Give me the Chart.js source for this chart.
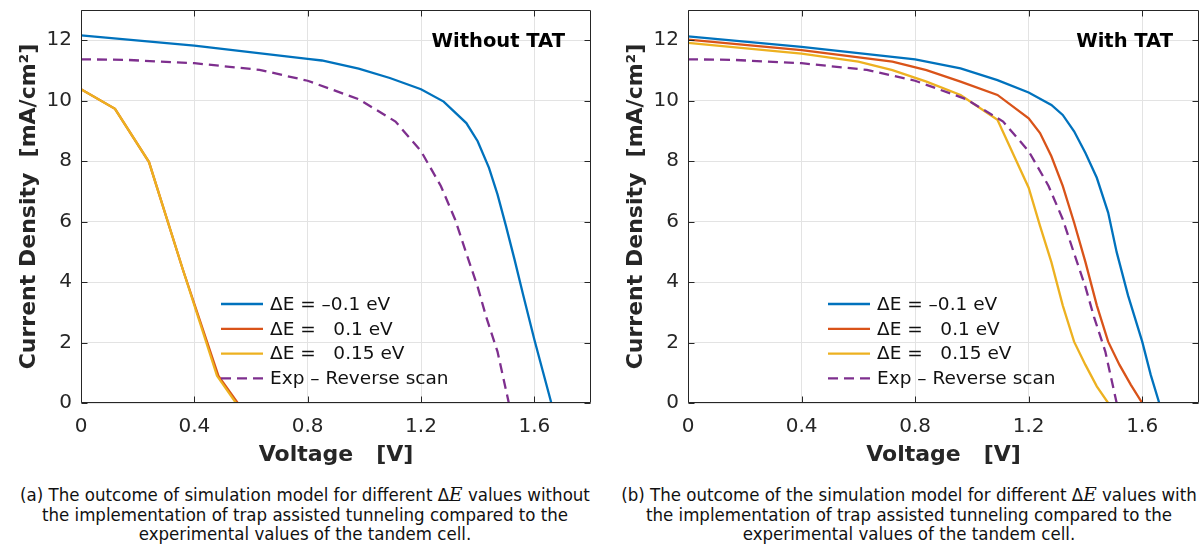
<!DOCTYPE html>
<html>
<head>
<meta charset="utf-8">
<script src="https://cdn.jsdelivr.net/npm/chart.js@4.4.1/dist/chart.umd.min.js"></script>
<style>
  body { margin: 0; background: #fff; width: 1203px; height: 546px; position: relative; overflow: hidden; }
  canvas { position: absolute; top: 0; }
  #jvLeft { left: 0; }
  #jvRight { left: 600px; }
  .caption {
    position: absolute; top: 485px;
    font-family: 'DejaVu Sans Condensed', 'DejaVu Sans', sans-serif;
    font-size: 18.5px; line-height: 19.5px; color: #111; text-align: center;
  }
  .caption i { font-family: 'DejaVu Serif', serif; }
</style>
</head>
<body>
<canvas id="jvLeft" width="600" height="470"></canvas>
<canvas id="jvRight" width="603" height="470"></canvas>
<div class="caption" style="left:0;width:610px">(a) The outcome of simulation model for different Δ<i>E</i> values without<br>the implementation of trap assisted tunneling compared to the<br>experimental values of the tandem cell.</div>
<div class="caption" style="left:610px;width:598px">(b) The outcome of the simulation model for different Δ<i>E</i> values with<br>the implementation of trap assisted tunneling compared to the<br>experimental values of the tandem cell.</div>
<script>
// J-V curves of the tandem cell: voltage in V, current density in mA/cm2
const voltageTicks = [0, 0.4, 0.8, 1.2, 1.6];
const currentTicks = [0, 2, 4, 6, 8, 10, 12];
const legendLabels = ['ΔE = –0.1 eV', 'ΔE =   0.1 eV', 'ΔE =   0.15 eV', 'Exp – Reverse scan'];

// measured reverse scan, shown in both panels
const expV = [0, 0.16, 0.40, 0.63, 0.80, 0.98, 1.11, 1.20, 1.27, 1.32, 1.36, 1.40, 1.43, 1.47, 1.51];
const expJ = [11.37, 11.35, 11.24, 11.02, 10.66, 10.05, 9.31, 8.33, 7.18, 6.08, 4.95, 3.84, 2.85, 1.70, 0];

// simulation without trap assisted tunneling
const noTatV_m01 = [0, 0.40, 0.80, 0.85, 0.98, 1.09, 1.20, 1.28, 1.36, 1.40, 1.44, 1.47, 1.50, 1.53, 1.56, 1.60, 1.63, 1.66];
const noTatJ_m01 = [12.16, 11.82, 11.38, 11.33, 11.06, 10.75, 10.38, 9.97, 9.26, 8.66, 7.78, 6.90, 5.85, 4.75, 3.60, 2.10, 1.05, 0];
const noTatV_01 = [0, 0.12, 0.24, 0.36, 0.485, 0.553];
const noTatJ_01 = [10.38, 9.73, 7.97, 4.40, 0.90, 0];
const noTatV_015 = [0, 0.12, 0.24, 0.36, 0.48, 0.547];
const noTatJ_015 = [10.38, 9.73, 7.97, 4.40, 0.90, 0];

// simulation with trap assisted tunneling
const tatV_m01 = [0, 0.40, 0.80, 0.96, 1.09, 1.20, 1.28, 1.32, 1.36, 1.40, 1.44, 1.48, 1.51, 1.55, 1.60, 1.63, 1.66];
const tatJ_m01 = [12.13, 11.78, 11.37, 11.07, 10.68, 10.27, 9.86, 9.53, 8.99, 8.27, 7.45, 6.30, 4.99, 3.56, 2.03, 0.93, 0];
const tatV_01 = [0, 0.40, 0.72, 0.84, 0.96, 1.09, 1.20, 1.24, 1.28, 1.32, 1.36, 1.40, 1.44, 1.48, 1.52, 1.56, 1.60];
const tatJ_01 = [12.02, 11.67, 11.29, 11.01, 10.63, 10.19, 9.42, 8.93, 8.16, 7.18, 5.97, 4.66, 3.23, 2.03, 1.26, 0.60, 0];
const tatV_015 = [0, 0.40, 0.60, 0.72, 0.84, 0.96, 1.09, 1.20, 1.24, 1.28, 1.32, 1.36, 1.40, 1.44, 1.48];
const tatJ_015 = [11.91, 11.56, 11.29, 11.01, 10.63, 10.19, 9.37, 7.12, 5.86, 4.66, 3.23, 2.03, 1.26, 0.55, 0];

const colors = ['#0072BD', '#D95319', '#EDB120', '#7E2F8E'];
const axisColor = '#262626';

function jvDataset(i, v, j) {
  return {
    label: legendLabels[i],
    data: v.map((x, k) => ({ x: x, y: j[k] })),
    borderColor: colors[i],
    borderWidth: 2.3,
    borderDash: i === 3 ? [10, 6] : [],
    pointRadius: 0,
    tension: 0,
    fill: false,
    order: 4 - i   // later curves on top
  };
}

// box around the axes with inward ticks, legend and panel tag
const matlabAxes = {
  id: 'matlabAxes',
  afterDatasetsDraw(chart, args, opts) {
    const { ctx, chartArea: a, scales: { x, y } } = chart;
    const L = Math.round(a.left) + 0.5, R = Math.round(a.right) - 0.5;
    const T = Math.round(a.top) + 0.5, B = Math.round(a.bottom) - 0.5;
    ctx.save();
    ctx.strokeStyle = axisColor;
    ctx.lineWidth = 1;
    ctx.setLineDash([]);
    ctx.beginPath();
    ctx.rect(L, T, R - L, B - T);
    voltageTicks.forEach(v => {
      const px = Math.round(x.getPixelForValue(v)) + 0.5;
      ctx.moveTo(px, B); ctx.lineTo(px, B - 6);
      ctx.moveTo(px, T); ctx.lineTo(px, T + 6);
    });
    currentTicks.forEach(c => {
      const py = Math.round(y.getPixelForValue(c)) + 0.5;
      ctx.moveTo(L, py); ctx.lineTo(L + 6, py);
      ctx.moveTo(R, py); ctx.lineTo(R - 6, py);
    });
    ctx.stroke();

    // legend
    ctx.font = '18.5px "DejaVu Sans"';
    ctx.textBaseline = 'middle';
    ctx.textAlign = 'left';
    chart.data.datasets.forEach((ds, i) => {
      const ly = a.top + 294 + i * 24.8;
      const lx = a.left + 140;
      ctx.strokeStyle = ds.borderColor;
      ctx.lineWidth = 2.3;
      ctx.setLineDash(ds.borderDash);
      ctx.beginPath();
      ctx.moveTo(lx, ly); ctx.lineTo(lx + 42, ly);
      ctx.stroke();
      ctx.fillStyle = '#111';
      ctx.fillText(ds.label, lx + 49, ly + 1);
    });

    // panel tag
    ctx.font = 'bold 19.5px "DejaVu Sans"';
    ctx.textAlign = 'right';
    ctx.fillStyle = '#000';
    ctx.fillText(opts.tag, a.right - 26, 42);
    ctx.restore();
  }
};

function makeChart(id, datasets, tag, yWidth, padRight, yTitlePad) {
  const tickFont = { family: 'DejaVu Sans', size: 20 };
  const titleFont = { family: 'DejaVu Sans', size: 22, weight: 'bold' };
  return new Chart(document.getElementById(id), {
    type: 'line',
    data: { datasets: datasets },
    plugins: [matlabAxes],
    options: {
      responsive: false,
      animation: false,
      events: [],
      layout: { padding: { top: 10, right: padRight, left: 0, bottom: 0 } },
      plugins: {
        legend: { display: false },
        tooltip: { enabled: false },
        matlabAxes: { tag: tag }
      },
      scales: {
        x: {
          type: 'linear', min: 0, max: 1.8,
          afterBuildTicks: s => { s.ticks = voltageTicks.map(v => ({ value: v })); },
          afterFit: s => { s.height = 67; s.paddingLeft = 0; s.paddingRight = 0; },
          ticks: { font: tickFont, color: axisColor, padding: 12, maxRotation: 0, autoSkip: false,
                   callback: v => String(v) },
          grid: { color: '#e3e3e3', lineWidth: 1, drawTicks: false },
          border: { display: false },
          title: { display: true, text: 'Voltage   [V]', font: titleFont, color: axisColor,
                   padding: { top: 0, bottom: 2 } }
        },
        y: {
          type: 'linear', min: 0, max: 13,
          afterBuildTicks: s => { s.ticks = currentTicks.map(v => ({ value: v })); },
          afterFit: s => { s.width = yWidth; s.paddingTop = 0; s.paddingBottom = 0; },
          ticks: { font: tickFont, color: axisColor, padding: 9, callback: v => String(v) },
          grid: { color: '#e3e3e3', lineWidth: 1, drawTicks: false },
          border: { display: false },
          title: { display: true, text: 'Current Density  [mA/cm²]', font: titleFont, color: axisColor,
                   padding: { top: yTitlePad, bottom: 0 } }
        }
      }
    }
  });
}

makeChart('jvLeft', [
  jvDataset(0, noTatV_m01, noTatJ_m01),
  jvDataset(1, noTatV_01, noTatJ_01),
  jvDataset(2, noTatV_015, noTatJ_015),
  jvDataset(3, expV, expJ)
], 'Without TAT', 81, 9, 16);

makeChart('jvRight', [
  jvDataset(0, tatV_m01, tatJ_m01),
  jvDataset(1, tatV_01, tatJ_01),
  jvDataset(2, tatV_015, tatJ_015),
  jvDataset(3, expV, expJ)
], 'With TAT', 88, 4, 23);
</script>
</body>
</html>
